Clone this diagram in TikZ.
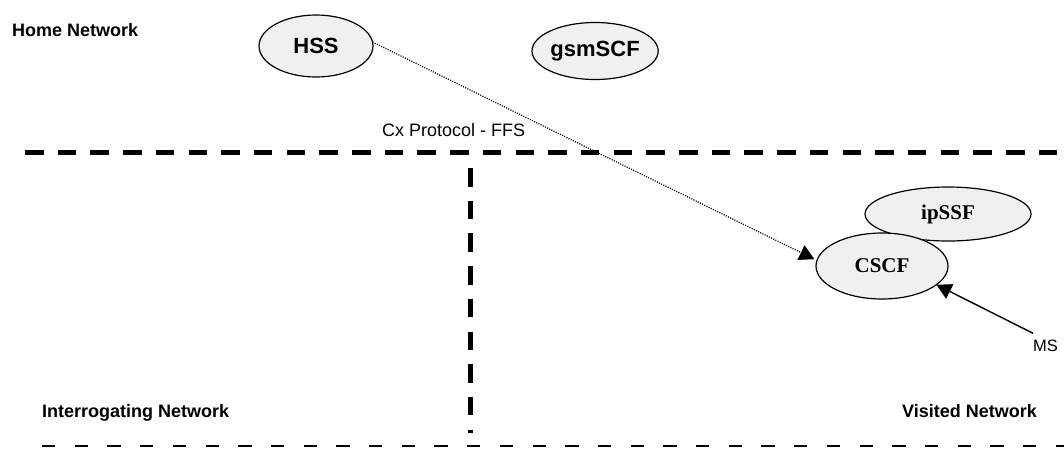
\documentclass[tikz,border=0pt]{standalone}
\usepackage{fontspec}
\setmainfont{Liberation Serif}
\setsansfont{Liberation Sans}
\usetikzlibrary{positioning,shapes,arrows.meta}

\begin{document}
\begin{tikzpicture}[
  x=1pt, y=-1pt,
  netfn/.style={draw,ellipse,fill=black!6,line width=1.2pt,inner sep=0pt,outer sep=0pt},
  hssfont/.style={font=\sffamily\bfseries\fontsize{22}{24}\selectfont},
  ipfont/.style={font=\rmfamily\bfseries\fontsize{21}{23}\selectfont},
  netlabel/.style={font=\sffamily\bfseries\fontsize{18}{20}\selectfont,inner sep=0pt},
  plainlabel/.style={font=\sffamily\fontsize{18}{20}\selectfont,inner sep=0pt},
  border/.style={line width=5pt,dash pattern=on 18.5pt off 14.2pt},
  thinborder/.style={line width=2pt,dash pattern=on 13.3pt off 19.4pt},
  cxlink/.style={line width=1.2pt,dash pattern=on 1.1pt off 1.3pt,-{Triangle[length=15pt,width=16pt]}},
  mslink/.style={line width=1.4pt,-{Triangle[length=15pt,width=16pt]}}
]
\useasboundingbox (0,0) rectangle (1064,448);
% network borders
\draw[border] (25,152) -- (1064,152);
\draw[border] (470,168) -- (470,433);
\draw[thinborder] (42,446) -- (1064,446);
% labels
\node[netlabel,anchor=base west] (home) at (12,36) {Home Network};
\node[netlabel,anchor=base west] (interrog) at (42,417) {Interrogating Network};
\node[netlabel,anchor=base east] (visited) at (1037,417) {Visited Network};
\node[plainlabel,anchor=base west] (cxlabel) at (382,136) {Cx Protocol - FFS};
\node[plainlabel,font=\sffamily\fontsize{16.5}{18}\selectfont,anchor=base west] (MS) at (1033,351) {MS};
% functions
\node[netfn,hssfont,minimum width=114pt,minimum height=62pt] (HSS) at (316,46) {HSS};
\node[netfn,hssfont,minimum width=113pt,minimum height=57pt,right=159pt of HSS,yshift=-5pt] (gsmSCF) {gsmSCF};
\node[netfn,ipfont,minimum width=166pt,minimum height=54pt] (ipSSF) at (948,214) {ipSSF};
\node[netfn,ipfont,minimum width=132pt,minimum height=66pt] (CSCF) at (882,266) {CSCF};
\path (HSS.4) edge[cxlink] ([xshift=-3pt]CSCF.174)
([yshift=6pt]MS.north west) edge[mslink] (CSCF.-19);
\end{tikzpicture}
\end{document}
